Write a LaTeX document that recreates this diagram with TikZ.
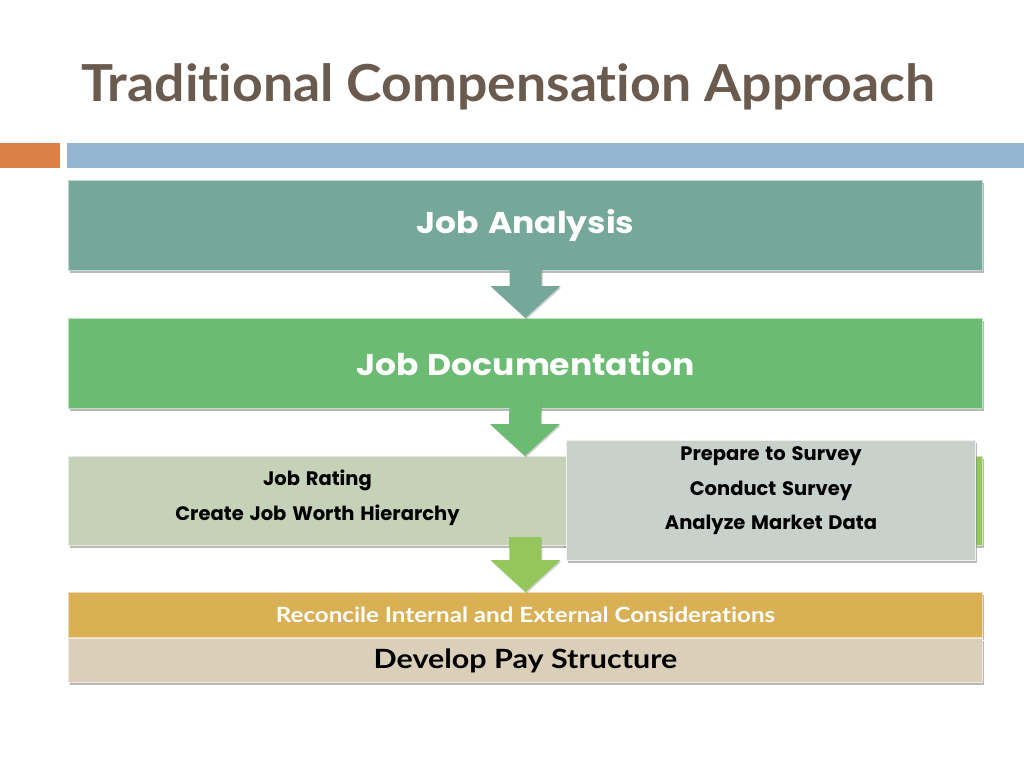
\documentclass[tikz,border=0pt]{standalone}
\usepackage{fontspec}
\setmainfont{Lato}[Ligatures=NoCommon]
\newfontfamily\titlefont[FakeStretch=1.05, Ligatures=NoCommon]{Lato}
\newfontfamily\gothic[WordSpace=1.4]{Poppins}
\newfontfamily\gothicwide[FakeStretch=1.1, WordSpace=1.3]{Poppins}
\newfontfamily\narrow[FakeStretch=1.15, Ligatures=NoCommon]{Lato}
\usetikzlibrary{calc,shadows}

\definecolor{titlebrown}{HTML}{6B5A4E}
\definecolor{barorange}{HTML}{DD8047}
\definecolor{barblue}{HTML}{94B6D2}
\definecolor{jateal}{HTML}{76A89A}
\definecolor{jdgreen}{HTML}{6BBB72}
\definecolor{jrsage}{HTML}{C6D2B8}
\definecolor{mkgreen}{HTML}{93C75B}
\definecolor{svgray}{HTML}{C9D1CD}
\definecolor{rcgold}{HTML}{D9B054}
\definecolor{pstan}{HTML}{DCCFB9}

\tikzset{
  box/.style={draw=white!55!#1, fill=#1, line width=1pt, inner sep=0pt,
    anchor=north west,
    drop shadow={shadow xshift=1.5pt, shadow yshift=-2.5pt, opacity=0.55}},
  bigtext/.style={text=white, font={\gothicwide\bfseries\fontsize{30}{34}\selectfont}},
  smalltext/.style={text=black, align=center, font={\gothic\bfseries\fontsize{19.5}{34.5}\selectfont}},
}

% block arrow from one box down to the next
\newcommand{\blockarrow}[3]{%
  \fill[#1, drop shadow={shadow xshift=1pt, shadow yshift=-1.5pt, opacity=0.35}]
    ($(#2)+(-16,-8)$) -- ($(#2)+(16,-8)$) -- ($(#3)+(16,-32)$) -- ($(#3)+(35,-32)$)
    -- (#3) -- ($(#3)+(-35,-32)$) -- ($(#3)+(-16,-32)$) -- cycle;}

\begin{document}
\begin{tikzpicture}[x=1pt, y=-1pt]
  \useasboundingbox[fill=white] (0,0) rectangle (1024,768);

  \node[anchor=base west, inner sep=0pt, text=titlebrown, font={\titlefont\bfseries\fontsize{51}{56}\selectfont}]
    (title) at (81,101) {Traditional Compensation Approach};
  \fill[barorange] (0,143) rectangle (60,168);
  \fill[barblue] (67,143) rectangle (1024,168);

  \node[box=jateal, minimum width=914pt, minimum height=90pt, bigtext] (ja) at (68,180) {Job Analysis};
  \node[box=jdgreen, minimum width=914pt, minimum height=90pt, bigtext] (jd) at (68,318) {Job Documentation};

  \node[box=mkgreen, minimum width=420pt, minimum height=89pt] (mk) at (562,456) {};
  \node[box=jrsage, minimum width=498pt, minimum height=89pt] (jr) at (68,456) {};
  \node[smalltext] (jrtext) at ($(jr.center)+(0,-3)$) {Job Rating\\Create Job Worth Hierarchy};
  \node[box=svgray, draw=white!70!svgray, minimum width=409pt, minimum height=120pt] (sv) at (566,440) {};
  \node[smalltext] (svtext) at ($(sv.center)+(0,-9.5)$) {Prepare to Survey\\Conduct Survey\\Analyze Market Data};

  \node[box=rcgold, minimum width=914pt, minimum height=45pt, text=white,
    font={\narrow\bfseries\fontsize{21}{24}\selectfont}] (rc) at (68,592)
    {Reconcile Internal and External Considerations};
  \node[box=pstan, minimum width=914pt, minimum height=44pt, text=black,
    font={\narrow\bfseries\fontsize{26.5}{30}\selectfont}] (ps) at (68,638)
    {\raisebox{2pt}{Develop Pay Structure}};

  \coordinate (jrbottom) at (525,545);
  \blockarrow{jateal}{ja.south}{jd.north}
  \blockarrow{jdgreen}{jd.south}{525,456}
  \blockarrow{mkgreen}{jrbottom}{rc.north}
\end{tikzpicture}
\end{document}
